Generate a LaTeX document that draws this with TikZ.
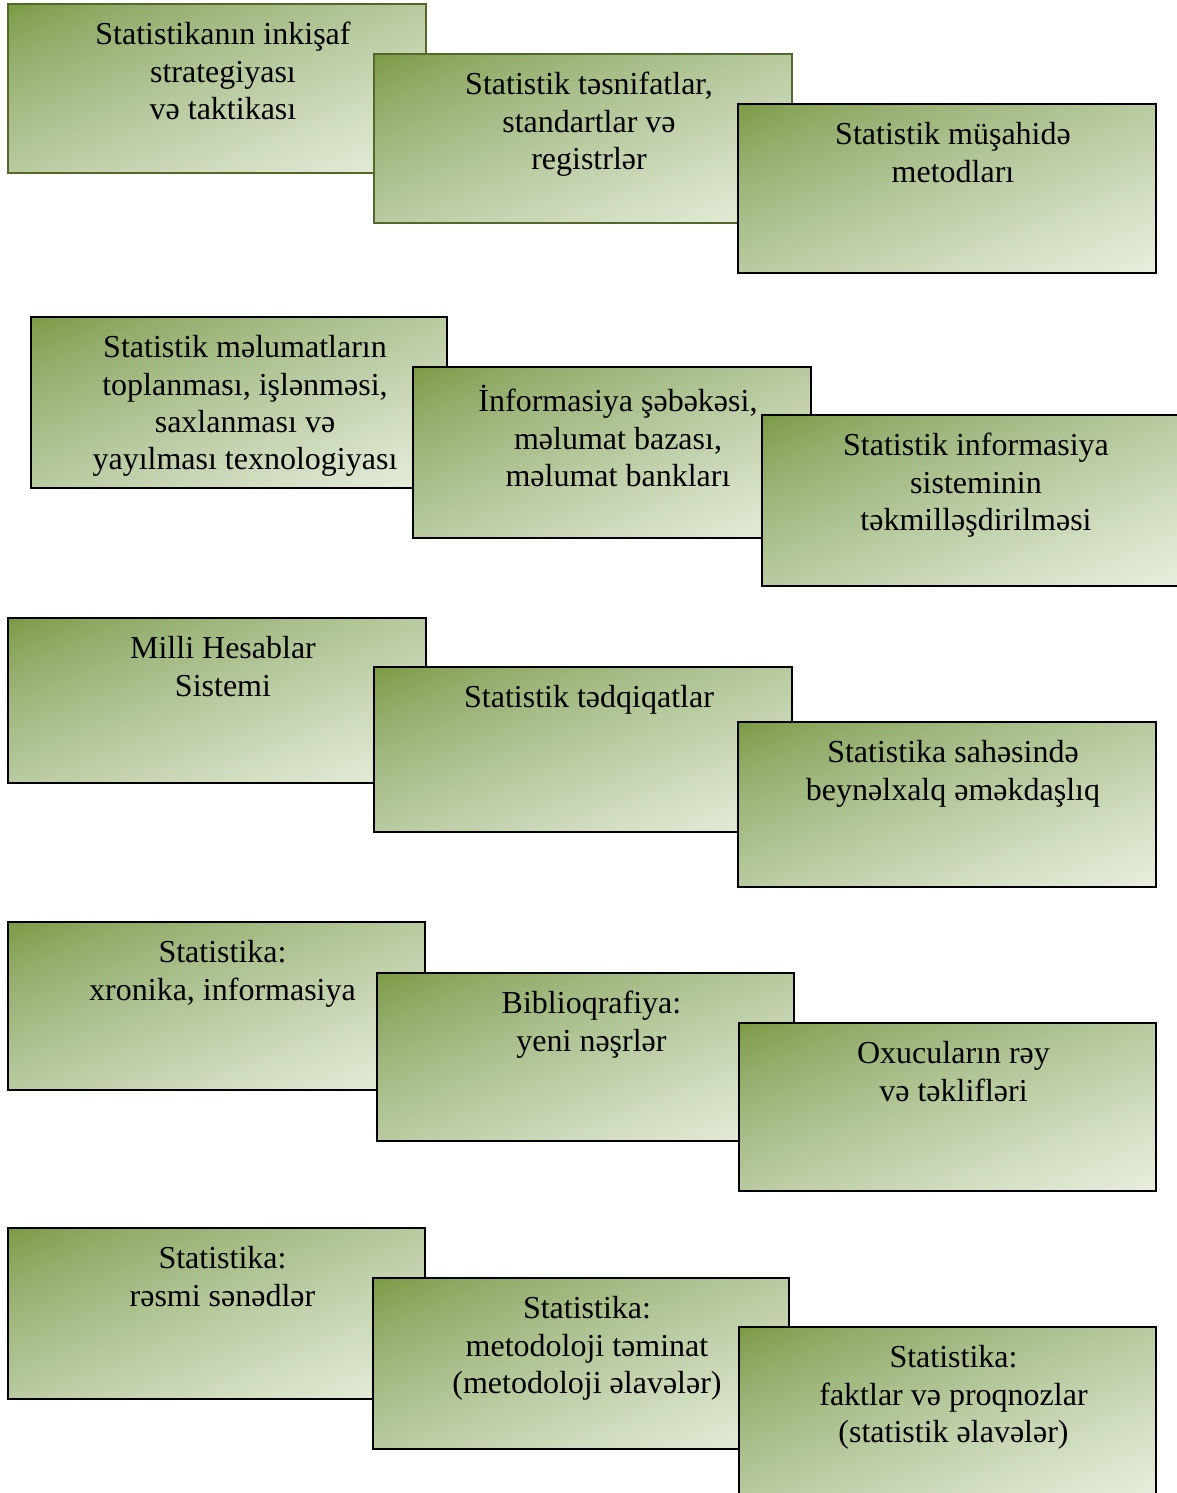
\documentclass[tikz,border=0pt]{standalone}
\usepackage{fontspec}
\setmainfont{Liberation Serif}
\usetikzlibrary{positioning}
\definecolor{oliveline}{RGB}{84,104,42}
% diagonal gradient, dark olive at top left, pale at bottom right
\pgfdeclarefunctionalshading{olivediag}{\pgfpoint{0bp}{0bp}}{\pgfpoint{100bp}{100bp}}{}{
  sub 50 add 100 div
  dup 0 lt {pop 0} if dup 1 gt {pop 1} if
  dup 0.7 exp exch 0.8 exp
  dup 0.435 mul 0.475 add exch
  0.335 mul 0.600 add
  3 -1 roll
  0.620 mul 0.245 add
}
\tikzset{
  box/.style={draw=black, line width=1pt, rectangle, inner sep=0pt, shade, shading=olivediag},
  boxgreen/.style={box, draw=oliveline},
  txt/.style={align=center, inner sep=0pt, anchor=north, xshift=3pt, yshift=-9.5pt,
    font=\fontsize{16}{18.7}\selectfont}
}
\begin{document}
\begin{tikzpicture}[x=0.5pt, y=-0.5pt]
\useasboundingbox (0,0) rectangle (1177,1493);
% first row
\node[boxgreen, minimum width=209pt, minimum height=84.5pt] (a1) at (217,88.5) {};
	\node[txt] (a1t) at (a1.north) {Statistikanın inkişaf\\strategiyası\\və taktikası};
\node[boxgreen, minimum width=209pt, minimum height=84.5pt] (a2) at (583,138.5) {};
	\node[txt] (a2t) at (a2.north) {Statistik təsnifatlar,\\standartlar və\\registrlər};
\node[box, minimum width=209pt, minimum height=84.5pt] (a3) at (947,188.5) {};
	\node[txt] (a3t) at (a3.north) {Statistik müşahidə\\metodları};
% second row
\node[box, minimum width=208pt, minimum height=85.5pt] (b1) at (239,402.5) {};
	\node[txt] (b1t) at (b1.north) {Statistik məlumatların\\toplanması, işlənməsi,\\saxlanması və\\yayılması texnologiyası};
\node[box, minimum width=199pt, minimum height=85.5pt] (b2) at (612,452.5) {};
	\node[txt] (b2t) at (b2.north) {İnformasiya şəbəkəsi,\\məlumat bazası,\\məlumat bankları};
\node[box, minimum width=208pt, minimum height=85.5pt] (b3) at (970,500.5) {};
	\node[txt] (b3t) at (b3.north) {Statistik informasiya\\sisteminin\\təkmilləşdirilməsi};
% third row
\node[box, minimum width=209pt, minimum height=82.5pt] (c1) at (217,700.5) {};
	\node[txt] (c1t) at (c1.north) {Milli Hesablar\\Sistemi};
\node[box, minimum width=209pt, minimum height=82.5pt] (c2) at (583,749.5) {};
	\node[txt] (c2t) at (c2.north) {Statistik tədqiqatlar};
\node[box, minimum width=209pt, minimum height=82.5pt] (c3) at (947,804.5) {};
	\node[txt] (c3t) at (c3.north) {Statistika sahəsində\\beynəlxalq əməkdaşlıq};
% fourth row
\node[box, minimum width=208.5pt, minimum height=84pt] (d1) at (216.5,1006) {};
	\node[txt] (d1t) at (d1.north) {Statistika:\\xronika, informasiya};
\node[box, minimum width=208.5pt, minimum height=84pt] (d2) at (585.5,1057) {};
	\node[txt] (d2t) at (d2.north) {Biblioqrafiya:\\yeni nəşrlər};
\node[box, minimum width=208.5pt, minimum height=84pt] (d3) at (947.5,1107) {};
	\node[txt] (d3t) at (d3.north) {Oxucuların rəy\\və təklifləri};
% fifth row
\node[box, minimum width=208.5pt, minimum height=85.5pt] (e1) at (216.5,1313.5) {};
	\node[txt] (e1t) at (e1.north) {Statistika:\\rəsmi sənədlər};
\node[box, minimum width=208pt, minimum height=85.5pt] (e2) at (581,1363.5) {};
	\node[txt] (e2t) at (e2.north) {Statistika:\\metodoloji təminat\\(metodoloji əlavələr)};
\node[box, minimum width=208.5pt, minimum height=85.5pt] (e3) at (947.5,1412.5) {};
	\node[txt] (e3t) at (e3.north) {Statistika:\\faktlar və proqnozlar\\(statistik əlavələr)};
\end{tikzpicture}
\end{document}
